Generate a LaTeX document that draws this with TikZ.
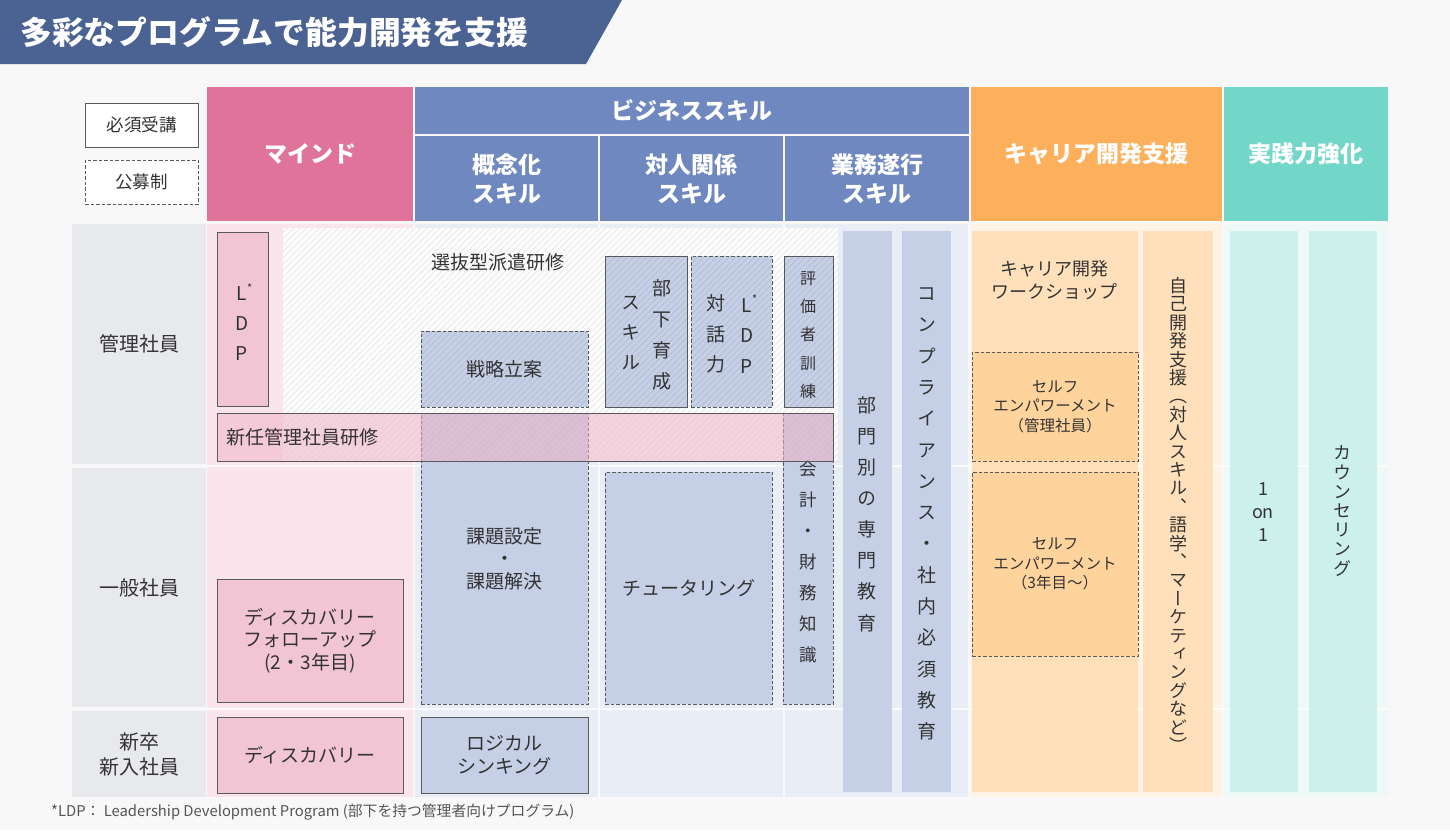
\documentclass[tikz,border=0pt]{standalone}
\usepackage{fontspec}
\setmainfont{Noto Sans CJK JP}
\newfontfamily\vjp[RawFeature=+vert]{Noto Sans CJK JP}
\usetikzlibrary{patterns.meta}
\definecolor{pagebg}{HTML}{F8F8F8}
\definecolor{titlebg}{HTML}{4B6392}
\definecolor{mindH}{HTML}{E0739A}
\definecolor{bizH}{HTML}{6F88BF}
\definecolor{carH}{HTML}{FDB05B}
\definecolor{pracH}{HTML}{72D6C8}
\definecolor{rowlab}{HTML}{E8E9EC}
\definecolor{mindL}{HTML}{FBE5EC}
\definecolor{bizL}{HTML}{E9EDF6}
\definecolor{carL}{HTML}{FFF3E6}
\definecolor{pracL}{HTML}{EEF9F7}
\definecolor{pinkbox}{HTML}{F2C5D4}
\definecolor{bluebox}{HTML}{C5CFE5}
\definecolor{orbox}{HTML}{FFE0BB}
\definecolor{ordash}{HTML}{FFD49C}
\definecolor{tealbox}{HTML}{CCF0EB}
\definecolor{barpink}{HTML}{EFB3C8}
\definecolor{txt}{HTML}{333333}
\definecolor{txtB}{HTML}{555555}
\definecolor{bord}{HTML}{5A5A5A}
\makeatletter
\newcommand\vcol[2]{\vbox{\baselineskip=#1\lineskip=0pt\lineskiplimit=-100pt\relax\@tfor\vc:=#2\do{\hbox to 1.2em{\hss\vc\hss}}}}
\makeatother
\newcommand\Lstar{L\rlap{\raisebox{0.45em}{\fontsize{11}{11}\selectfont *}}}
\newcommand\rect[6]{\node[#1,minimum width={(#5-#3)*1pt},minimum height={(#6-#4)*1pt}] (#2) at ({(#3+#5)/2},{(#4+#6)/2})}
\tikzset{
  base/.style={inner sep=0pt, outer sep=0pt, text=txt, font=\fontsize{19}{22.5}\selectfont, align=center},
  solidbox/.style={base, draw=bord, line width=1pt},
  dashbox/.style={base, draw=bord, line width=1pt, dash pattern=on 3.5pt off 2pt},
  hdr/.style={base, text=white, font=\bfseries\fontsize{23}{29}\selectfont},
  vtxt/.style={inner sep=0pt, text=txt, font=\vjp\fontsize{19}{19}\selectfont},
  lbl/.style={inner sep=0pt, text=txt, font=\fontsize{19}{22.5}\selectfont, align=center},
}
\begin{document}
\begin{tikzpicture}[x=1pt,y=-1pt]
\useasboundingbox (0,0) rectangle (1450,830);
\fill[pagebg] (0,0) rectangle (1450,830);
% title
\fill[titlebg] (0,0) -- (622,0) -- (586,64) -- (0,64) -- cycle;
\node[anchor=west, inner sep=0pt, text=white, font=\bfseries\fontsize{31.8}{32}\selectfont] (title) at (20,32) {多彩なプログラムで能力開発を支援};
% legend
\rect{solidbox,fill=white,font=\fontsize{17.5}{20}\selectfont}{lgA}{85}{103}{198}{147} {必須受講};
\rect{dashbox,fill=white,font=\fontsize{17.5}{20}\selectfont}{lgB}{85}{160}{198}{204} {公募制};
% headers
\rect{hdr,fill=mindH}{hMind}{207}{87}{413}{221} {マインド};
\rect{hdr,fill=bizH}{hBiz}{415}{87}{969}{134} {ビジネススキル};
\rect{hdr,fill=bizH}{hConc}{415}{136}{598}{221} {概念化\\スキル};
\rect{hdr,fill=bizH}{hInter}{600}{136}{783}{221} {対人関係\\スキル};
\rect{hdr,fill=bizH}{hTask}{785}{136}{969}{221} {業務遂行\\スキル};
\rect{hdr,fill=carH}{hCar}{971}{87}{1222}{221} {キャリア開発支援};
\rect{hdr,fill=pracH}{hPrac}{1224}{87}{1388}{221} {実践力強化};
% row labels
\rect{base,fill=rowlab,font=\fontsize{20}{25}\selectfont}{rA}{72}{224}{206}{464} {管理社員};
\rect{base,fill=rowlab,font=\fontsize{20}{25}\selectfont}{rB}{72}{468}{206}{707} {一般社員};
\rect{base,fill=rowlab,font=\fontsize{20}{25}\selectfont}{rC}{72}{711}{206}{797} {新卒\\新入社員};
% column backgrounds
\rect{base,fill=mindL}{bgMind}{207}{224}{413}{797} {};
\rect{base,fill=bizL}{bgBiz}{415}{224}{968}{797} {};
\rect{base,fill=carL}{bgCar}{971}{224}{1222}{797} {};
\rect{base,fill=pracL}{bgPrac}{1224}{224}{1388}{797} {};
\draw[white, line width=2pt, opacity=0.8] (207,466) -- (1388,466) (207,709) -- (1388,709);
\draw[white, line width=2pt, opacity=0.8] (599,224) -- (599,797) (784,224) -- (784,797);
% selection area base
\fill[white!55!pagebg] (283,228) rectangle (838,461);
% mind boxes
\rect{solidbox,fill=pinkbox}{ldp}{217}{232}{268}{406} {};
\node[vtxt] (tLdp) at (242,322) {\vcol{30pt}{\Lstar DP}};
\rect{solidbox,fill=pinkbox}{discF}{217}{579}{403}{702} {ディスカバリー\\フォローアップ\\(2・3年目)};
\rect{solidbox,fill=pinkbox}{disc}{217}{717}{403}{793} {ディスカバリー};
% business boxes
\rect{dashbox,fill=bluebox}{senr}{421}{331}{588}{407} {戦略立案};
\rect{solidbox,fill=bluebox}{buka}{605}{256}{687}{407} {};
\node[vtxt] (tBuka) at (662,335) {\vcol{31pt}{部下育成}};
\node[vtxt] (tSkl) at (631,333) {\vcol{30pt}{スキル}};
\rect{dashbox,fill=bluebox}{taiwa}{691}{256}{772}{407} {};
\node[vtxt] (tTaiwa) at (716,334) {\vcol{30.5pt}{対話力}};
\node[vtxt] (tLdpB) at (747,334) {\vcol{30.5pt}{\Lstar DP}};
\rect{solidbox,fill=bluebox}{hyoka}{784}{256}{833}{407} {};
\node[vtxt,font=\vjp\fontsize{16}{16}\selectfont] (tHyoka) at (808,335) {\vcol{28.3pt}{評価者訓練}};
\rect{dashbox,fill=bluebox}{kadai}{421}{413}{588}{704} {課題設定\\・\\課題解決};
\rect{dashbox,fill=bluebox}{tutor}{605}{472}{772}{704} {チュータリング};
\rect{dashbox,fill=bluebox}{kaikei}{783}{413}{833}{704} {};
\node[vtxt,font=\vjp\fontsize{17.5}{17.5}\selectfont] (tKaikei) at (808,562) {\vcol{31pt}{会計・財務知識}};
\rect{solidbox,fill=bluebox}{logic}{421}{717}{588}{793} {ロジカル\\シンキング};
\rect{base,fill=bluebox}{bumon}{843}{231}{892}{792} {};
\node[vtxt] (tBumon) at (867,514) {\vcol{31.1pt}{部門別の専門教育}};
\rect{base,fill=bluebox}{compl}{902}{231}{951}{792} {};
\node[vtxt] (tCompl) at (927,514) {\vcol{31.3pt}{コンプライアンス・社内必須教育}};
% career boxes
\rect{base,fill=orbox}{carWS}{972}{231}{1138}{792} {};
\node[lbl,font=\fontsize{18}{23.5}\selectfont] (tCarWS) at (1054,280) {キャリア開発\\ワークショップ};
\rect{dashbox,fill=ordash,font=\fontsize{15.5}{19.5}\selectfont}{selfA}{972}{352}{1138}{461} {セルフ\\エンパワーメント\\（管理社員）};
\rect{dashbox,fill=ordash,font=\fontsize{15.5}{19.5}\selectfont}{selfB}{972}{472}{1138}{656} {セルフ\\エンパワーメント\\（3年目〜）};
\rect{base,fill=orbox}{jiko}{1143}{231}{1213}{792} {};
\node[vtxt,font=\vjp\fontsize{18}{18}\selectfont] (tJiko) at (1178,515) {\vcol{18.4pt}{自己開発支援（対人スキル、語学、マーケティングなど）}};
% practice boxes
\rect{base,fill=tealbox}{one}{1230}{231}{1298}{792} {};
\node[lbl,font=\fontsize{18}{23}\selectfont] (tOne) at (1263,512) {1\\on\\1};
\rect{base,fill=tealbox}{couns}{1309}{231}{1377}{792} {};
\node[vtxt,font=\vjp\fontsize{18}{18}\selectfont] (tCouns) at (1342,511) {\vcol{19.2pt}{カウンセリング}};
% hatch overlay
\begin{scope}[transparency group, opacity=0.09]
\fill[pattern={Lines[angle=45,distance=4.5pt,line width=0.7pt]}, pattern color=black] (283,228) rectangle (838,461);
\end{scope}
\node[lbl] (tSenbatsu) at (498,262) {選抜型派遣研修};
% new manager bar
\rect{base,draw=bord,line width=1pt,fill=barpink,fill opacity=0.55,text opacity=1}{shinnin}{217}{413}{833}{461} {};
\node[lbl,anchor=west] (tShinnin) at (226,437) {新任管理社員研修};
% footnote
\node[anchor=west, inner sep=0pt, text=txtB, font=\fontsize{14.8}{18}\selectfont] (fn) at (51,812) {*LDP： Leadership Development Program (部下を持つ管理者向けプログラム)};
\end{tikzpicture}
\end{document}
